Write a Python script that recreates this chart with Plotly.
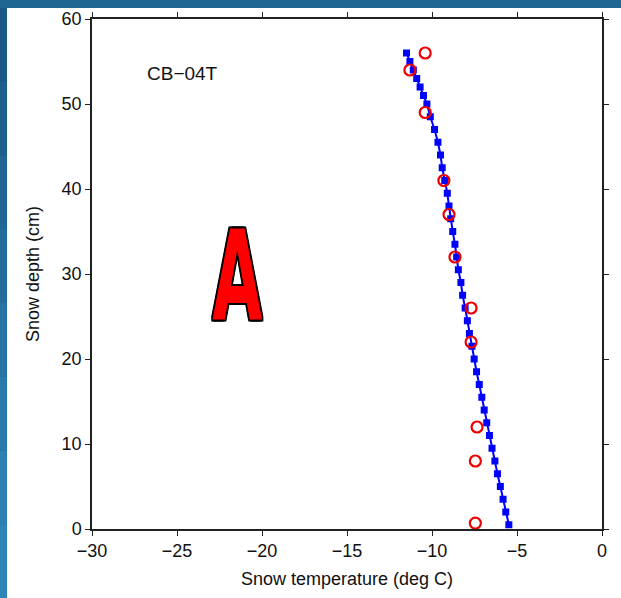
import plotly.graph_objects as go

# Blue series: modelled/thermistor snow temperature profile
model_depth = [56, 55, 54, 53, 52, 51, 50, 48.5, 47, 45.5, 44, 42.5, 41, 39.5, 38, 36.5,
               35, 33.5, 32, 30.5, 29, 27.5, 26, 24.5, 23, 21.5, 20, 18.5, 17, 15.5,
               14, 12.5, 11, 9.5, 8, 6.5, 5, 3.5, 2, 0.5]
model_temp = [-11.5, -11.3, -11.1, -10.9, -10.7, -10.5, -10.3, -10.1, -9.85, -9.65, -9.5,
              -9.4, -9.25, -9.1, -9.0, -8.9, -8.78, -8.65, -8.55, -8.45, -8.3, -8.2, -8.05,
              -7.92, -7.8, -7.65, -7.52, -7.38, -7.22, -7.07, -6.93, -6.78, -6.62, -6.47,
              -6.3, -6.15, -5.98, -5.82, -5.66, -5.48]

# Red series: observed snow temperatures
obs_depth = [56, 54, 49, 41, 37, 32, 26, 22, 12, 8, 0.7]
obs_temp = [-10.4, -11.3, -10.4, -9.3, -9.0, -8.65, -7.7, -7.7, -7.35, -7.45, -7.45]

x_ticks = [-30, -25, -20, -15, -10, -5, 0]
y_ticks = [0, 10, 20, 30, 40, 50, 60]

site_label = "CB−04T"
panel_letter = "A"
x_title = "Snow temperature (deg C)"
y_title = "Snow depth (cm)"

FONT = "Liberation Sans, Arial, sans-serif"
AXC = "#222222"

fig = go.Figure()
fig.add_trace(go.Scatter(
    x=model_temp, y=model_depth, mode="lines+markers",
    line=dict(color="#0000ff", width=2),
    marker=dict(symbol="square", size=7, color="#0000ff"),
    showlegend=False, hoverinfo="skip"))
fig.add_trace(go.Scatter(
    x=obs_temp, y=obs_depth, mode="markers",
    marker=dict(symbol="circle-open", size=11, color="#ee0000", line=dict(width=2.2, color="#ee0000")),
    showlegend=False, hoverinfo="skip"))

# background bands (slide frame)
shapes = [dict(type="rect", xref="paper", yref="paper", x0=-0.1667, x1=1.1, y0=-0.2, y1=1.0216,
               fillcolor="white", line=dict(width=0), layer="below")]
left_cols = ["#1b5783", "#1d5e8c", "#206594", "#236c9c", "#2673a4", "#297aab", "#2c81b2", "#2e86b8"]
n = len(left_cols)
y_top, y_bot = 1.0216, -0.1353
for i, c in enumerate(left_cols):
    ya = y_top - (y_top - y_bot) * i / n
    yb = y_top - (y_top - y_bot) * (i + 1) / n
    shapes.append(dict(type="rect", xref="paper", yref="paper", x0=-0.2, x1=-0.1667, y0=yb, y1=ya,
                       fillcolor=c, line=dict(width=0), layer="below"))

annotations = [
    dict(x=-26.9, y=53.6, xref="x", yref="y", text=site_label, showarrow=False,
         xanchor="left", yanchor="middle", font=dict(family=FONT, size=19, color="#111111")),
    dict(x=-21.45, y=29.6, xref="x", yref="y", text="<b>" + panel_letter + "</b>", showarrow=False,
         xanchor="center", yanchor="middle",
         font=dict(family="Liberation Sans Narrow, DejaVu Sans Condensed, sans-serif", size=124, color="#ff0000",
                   shadow="-2px -2px 0 #000, 2px -2px 0 #000, -2px 2px 0 #000, 2px 2px 0 #000, 0 2px 0 #000, 0 -2px 0 #000, 2px 0 0 #000, -2px 0 0 #000")),
]

fig.update_layout(
    width=621, height=598,
    margin=dict(l=92, r=19, t=19, b=69, pad=0),
    paper_bgcolor="#1e6592", plot_bgcolor="white",
    shapes=shapes, annotations=annotations,
    font=dict(family=FONT, size=18, color="#111111"),
    xaxis=dict(range=[-30, 0], tickvals=x_ticks, ticks="outside", ticklen=5, tickwidth=1,
               tickcolor=AXC, showline=True, linecolor=AXC, linewidth=1.5, mirror="ticks",
               showgrid=False, zeroline=False, automargin=False,
               title=dict(text=x_title, font=dict(size=18), standoff=12),
               tickfont=dict(size=18)),
    yaxis=dict(range=[0, 60], tickvals=y_ticks, ticks="outside", ticklen=5, tickwidth=1,
               tickcolor=AXC, showline=True, linecolor=AXC, linewidth=1.5, mirror="ticks",
               showgrid=False, zeroline=False, automargin=False,
               title=dict(text=y_title, font=dict(size=18), standoff=17),
               tickfont=dict(size=18)),
)

post = """
document.documentElement.style.margin='0';
document.body.style.margin='0';
document.body.style.padding='0';
document.body.style.overflow='hidden';
function squeezeA(){
  var els = document.querySelectorAll('text.annotation-text');
  els.forEach(function(t){
    if (t.textContent.trim() === 'A') {
      t.style.transformBox = 'fill-box';
      t.style.transformOrigin = 'center';
      t.style.transform = 'scaleX(0.58)';
    }
  });
}
squeezeA();
setTimeout(squeezeA, 50);
"""

fig.write_html("out.html", post_script=post, config={"displayModeBar": False})
